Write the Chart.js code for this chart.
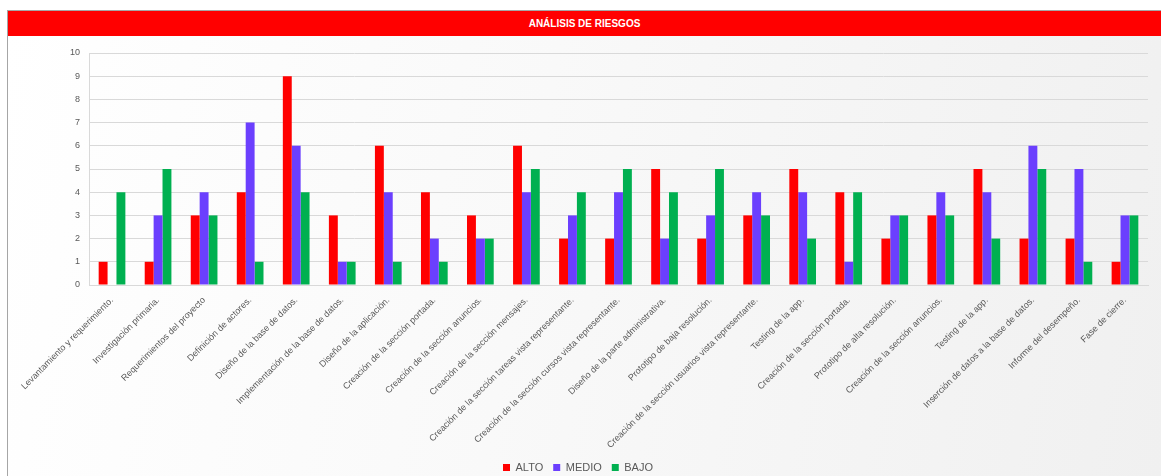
<!DOCTYPE html>
<html>
<head>
<meta charset="utf-8">
<script src="https://cdn.jsdelivr.net/npm/chart.js@4.4.1/dist/chart.umd.min.js"></script>
<style>
  html, body { margin: 0; padding: 0; background: #fff; overflow: hidden; }
  #frame {
    position: absolute; left: 7px; top: 10px;
    width: 1153px; height: 466px; overflow: hidden;
    border-top: 1px solid #a6a6a6; border-left: 1px solid #a6a6a6;
    background: linear-gradient(100deg, #ffffff 0%, #f9f9f9 45%, #f0f0f0 100%);
  }
  #head {
    height: 25px; background: #ff0000; color: #fff;
    font: bold 10px "Liberation Sans", Arial, sans-serif;
    text-align: center; line-height: 25px;
  }
  #pvWrap { position: relative; width: 1152px; height: 447px; }
</style>
</head>
<body>
<div id="frame">
  <div id="head">ANÁLISIS DE RIESGOS</div>
  <div id="pvWrap"><canvas id="riskChart" width="1152" height="447"></canvas></div>
</div>
<script>
const categories = [
  'Levantamiento y requerimiento.',
  'Investigación primaria.',
  'Requerimientos del proyecto',
  'Definición de actores.',
  'Diseño de la base de datos.',
  'Implementación de la base de datos.',
  'Diseño de la aplicación.',
  'Creación de la sección portada.',
  'Creación de la sección anuncios.',
  'Creación de la sección mensajes.',
  'Creación de la sección tareas vista representante.',
  'Creación de la sección cursos vista representante.',
  'Diseño de la parte administrativa.',
  'Prototipo de baja resolución.',
  'Creación de la sección usuarios vista representante.',
  'Testing de la app.',
  'Creación de la sección portada.',
  'Prototipo de alta resolución.',
  'Creación de la sección anuncios.',
  'Testing de la app.',
  'Inserción de datos a la base de datos.',
  'Informe del desempeño.',
  'Fase de cierre.'
];
const alto  = [1, 1, 3, 4, 9, 3, 6, 4, 3, 6, 2, 2, 5, 2, 3, 5, 4, 2, 3, 5, 2, 2, 1];
const medio = [0, 3, 4, 7, 6, 1, 4, 2, 2, 4, 3, 4, 2, 3, 4, 4, 1, 3, 4, 4, 6, 5, 3];
const bajo  = [4, 5, 3, 1, 4, 1, 1, 1, 2, 5, 4, 5, 4, 5, 3, 2, 4, 3, 3, 2, 5, 1, 3];
const yTicks = [0, 1, 2, 3, 4, 5, 6, 7, 8, 9, 10];

const FONT = '"Liberation Sans", Arial, sans-serif';
const gridColor = '#d9d9d9';
const textColor = '#595959';

const ctx = document.getElementById('riskChart').getContext('2d');

new Chart(ctx, {
  type: 'bar',
  data: {
    labels: categories,
    datasets: [
      { label: 'ALTO',  data: alto,  backgroundColor: '#ff0000' },
      { label: 'MEDIO', data: medio, backgroundColor: '#6b3ffe' },
      { label: 'BAJO',  data: bajo,  backgroundColor: '#00b050' }
    ]
  },
  options: {
    responsive: false,
    animation: false,
    datasets: { bar: { categoryPercentage: 0.58, barPercentage: 1.0 } },
    layout: { padding: { top: 17, right: 12, bottom: 0, left: 0 } },
    plugins: {
      tooltip: { enabled: false },
      legend: {
        position: 'bottom',
        labels: {
          color: textColor,
          font: { family: FONT, size: 11 },
          boxWidth: 7, boxHeight: 7, padding: 10
        }
      }
    },
    scales: {
      x: {
        grid: { display: false },
        border: { display: true, color: gridColor },
        ticks: {
          color: textColor,
          font: { family: FONT, size: 9 },
          autoSkip: false,
          minRotation: 45, maxRotation: 45,
          padding: 2
        },
        afterFit: function (scale) { scale.height = 167; }
      },
      y: {
        min: 0, max: 10,
        grid: { color: gridColor, drawTicks: false },
        border: { display: true, color: gridColor },
        ticks: {
          color: textColor,
          font: { family: FONT, size: 9 },
          padding: 9,
          stepSize: 1,
          callback: function (v) { return yTicks.includes(v) ? v : ''; }
        },
        afterFit: function (scale) { scale.width = 81; }
      }
    }
  }
});
</script>
</body>
</html>
